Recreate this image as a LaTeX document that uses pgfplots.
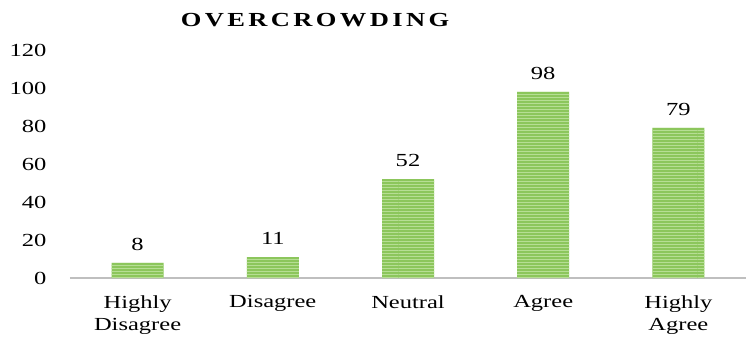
\documentclass[border=0pt]{standalone}
\usepackage{fontspec}
\setmainfont{Liberation Serif}[FakeStretch=1.33]
\usepackage{pgfplots}
\pgfplotsset{compat=1.18}
\usetikzlibrary{patterns}
\definecolor{barfill}{RGB}{140,198,92}
\definecolor{barline}{RGB}{182,222,148}
\definecolor{axisgray}{RGB}{191,191,191}
\begin{document}
\begin{tikzpicture}[x=1bp,y=1bp]
\useasboundingbox (-70,-59) rectangle (680,278);
\begin{axis}[
  at={(0,0)}, anchor=south west,
  scale only axis, width=676bp, height=228bp,
  xmin=-0.5, xmax=4.5, ymin=0, ymax=120,
  axis x line=bottom, axis y line=left,
  axis line style={-},
  x axis line style={axisgray, line width=1.5bp},
  y axis line style={draw=none},
  major tick length=0,
  ytick={0,20,...,120},
  xtick={0,1,2,3,4},
  xticklabels={{Highly\\Disagree},Disagree,Neutral,Agree,{Highly\\Agree}},
  ticklabel style={font=\fontsize{18.5}{22}\selectfont},
  /pgf/number format/assume math mode=true,
  xticklabel style={align=center, yshift=-14bp},
  yticklabel style={xshift=-20bp},
  clip=false,
]
\addplot[ybar, bar width=52bp, draw=none, fill=barfill,
  postaction={pattern=horizontal lines, pattern color=barline},
  nodes near coords,
  nodes near coords style={font=\fontsize{18.5}{22}\selectfont, text=black, yshift=9bp}]
  coordinates {(0,8) (1,11) (2,52) (3,98) (4,79)};
\end{axis}
\node[font=\fontsize{20}{22}\selectfont\bfseries\addfontfeatures{LetterSpace=17}] at (245,258) {OVERCROWDING};
\end{tikzpicture}
\end{document}
